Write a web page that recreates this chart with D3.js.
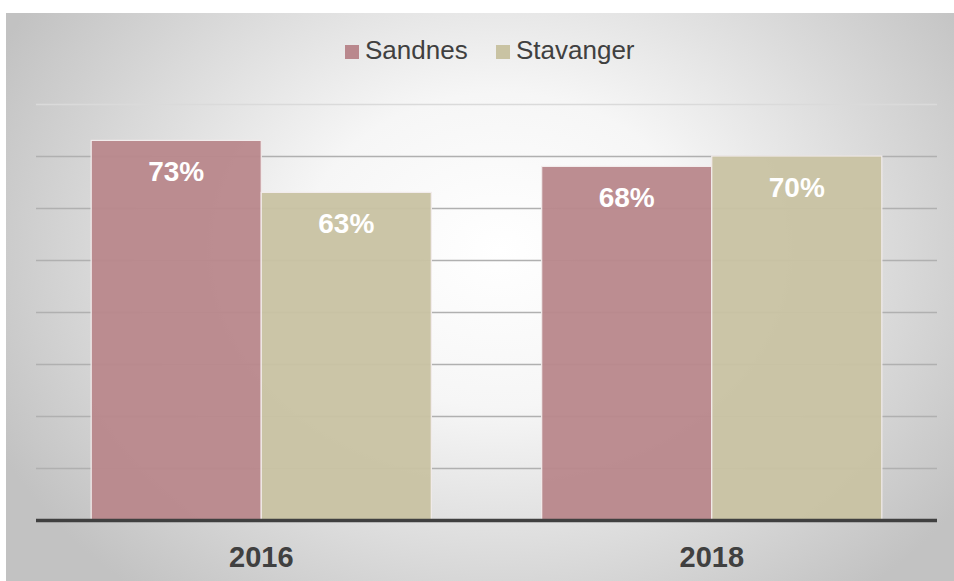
<!DOCTYPE html>
<html><head><meta charset="utf-8">
<script src="https://cdn.jsdelivr.net/npm/d3@7"></script>
<style>html,body{margin:0;padding:0;background:#fff;}svg{display:block;}</style>
</head><body>
<script>
const categories = ["2016", "2018"];
const seriesNames = ["Sandnes", "Stavanger"];
const sandnes = [0.73, 0.68];
const stavanger = [0.63, 0.70];
const gridTicks = [0.1, 0.2, 0.3, 0.4, 0.5, 0.6, 0.7, 0.8];
const colors = ["#b9888d", "#c9c3a3"];

const W = 954, H = 581;
const svg = d3.select("body").append("svg").attr("width", W).attr("height", H);
const defs = svg.append("defs");
const rg = defs.append("radialGradient").attr("id", "bg")
  .attr("gradientUnits", "userSpaceOnUse")
  .attr("cx", 500).attr("cy", 250).attr("r", 560)
  .attr("gradientTransform", "translate(500,250) scale(1,0.8) translate(-500,-250)");
rg.append("stop").attr("offset", "0").attr("stop-color", "#ffffff");
rg.append("stop").attr("offset", "0.35").attr("stop-color", "#f6f6f6");
rg.append("stop").attr("offset", "1").attr("stop-color", "#c2c2c2");

svg.append("rect").attr("x", 6).attr("y", 13).attr("width", W - 6).attr("height", H - 13).attr("fill", "url(#bg)");

const left = 36, right = 937, baseY = 520;
const y = d3.scaleLinear().domain([0, 0.8]).range([baseY, 104]);
const x0 = d3.scaleBand().domain(categories).range([left, right]).paddingInner(0.245).paddingOuter(0.1225);
const x1 = d3.scaleBand().domain(seriesNames).range([0, x0.bandwidth()]).padding(0);

// gridlines
svg.append("g").selectAll("line").data(gridTicks).join("line")
  .attr("x1", left).attr("x2", right)
  .attr("y1", d => Math.round(y(d)) + 0.5).attr("y2", d => Math.round(y(d)) + 0.5)
  .attr("stroke", d => d >= 0.8 ? "#dadada" : "#b0b0b0").attr("stroke-width", 1.3);

const data = categories.map((c, i) => ({cat: c, vals: [sandnes[i], stavanger[i]]}));
const g = svg.append("g");
data.forEach(d => {
  d.vals.forEach((v, j) => {
    const bx = x0(d.cat) + x1(seriesNames[j]);
    g.append("rect").attr("x", bx).attr("y", y(v)).attr("width", x1.bandwidth()).attr("height", baseY - y(v))
      .attr("fill", colors[j]).attr("fill-opacity", 0.96)
      .attr("stroke", "#f2ecec").attr("stroke-width", 1.2);
    g.append("text").attr("x", bx + x1.bandwidth() / 2).attr("y", y(v) + 41)
      .attr("text-anchor", "middle").attr("fill", "#ffffff")
      .attr("font-family", "Liberation Sans, Arial, sans-serif").attr("font-weight", "bold").attr("font-size", 28)
      .text(Math.round(v * 100) + "%");
  });
});

// baseline
svg.append("line").attr("x1", left).attr("x2", right).attr("y1", baseY + 0.5).attr("y2", baseY + 0.5)
  .attr("stroke", "#404040").attr("stroke-width", 3.5);

// x axis labels
const xAxis = d3.axisBottom(x0).tickSize(0).tickPadding(0);
const ax = svg.append("g").attr("transform", `translate(0,${baseY})`).call(xAxis);
ax.select(".domain").remove();
ax.selectAll("text").attr("y", 47).attr("dy", 0)
  .attr("fill", "#404040").attr("font-family", "Liberation Sans, Arial, sans-serif")
  .attr("font-weight", "bold").attr("font-size", 29);

// legend
const legX = [345, 496];
const leg = svg.append("g");
seriesNames.forEach((s, i) => {
  leg.append("rect").attr("x", legX[i]).attr("y", 45).attr("width", 14).attr("height", 14).attr("fill", colors[i]);
  leg.append("text").attr("x", legX[i] + 20).attr("y", 59)
    .attr("fill", "#404040").attr("font-family", "Liberation Sans, Arial, sans-serif").attr("font-size", 26)
    .text(s);
});
</script>
</body></html>
